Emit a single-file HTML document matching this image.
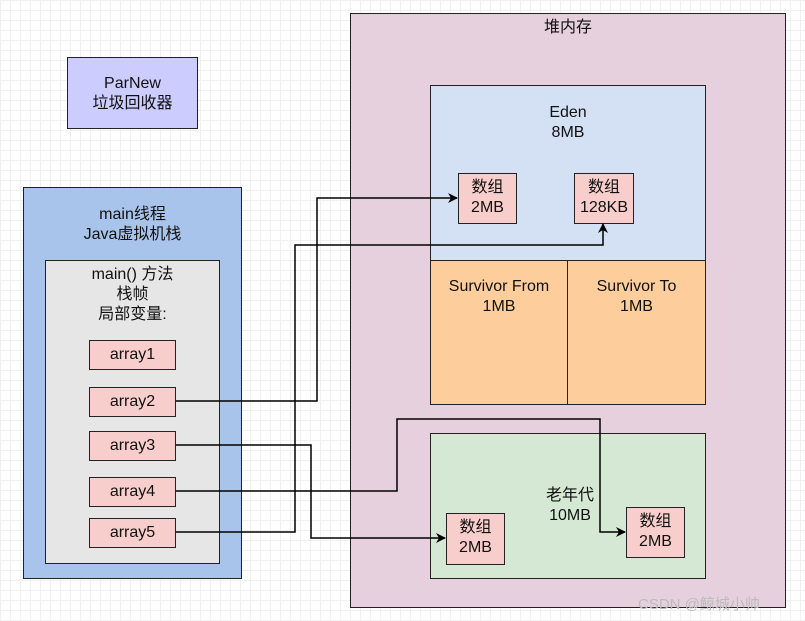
<!DOCTYPE html>
<html><head><meta charset="utf-8"><style>
body{margin:0;width:805px;height:621px;overflow:hidden;background:#fff;
background-image:linear-gradient(#f0f0f0 1px,transparent 1px),linear-gradient(90deg,#f0f0f0 1px,transparent 1px);background-size:10px 10px;
font-family:"Liberation Sans","Noto Sans CJK SC",sans-serif;}
.b{position:absolute;box-sizing:border-box;border:1.5px solid #222;font-size:16px;color:#111;text-align:center;line-height:20px}
</style></head><body>
<div class="b" style="left:350px;top:13px;width:436px;height:595px;background:#e6d0de;padding-top:4px">堆内存</div>
<div class="b" style="left:430px;top:85px;width:276px;height:176px;background:#d4e1f5;padding-top:17px">Eden<br>8MB</div>
<div class="b" style="left:430px;top:260px;width:138px;height:145px;background:#fdcd9c;padding-top:16px">Survivor From<br>1MB</div>
<div class="b" style="left:567px;top:260px;width:139px;height:145px;background:#fdcd9c;padding-top:16px">Survivor To<br>1MB</div>
<div class="b" style="left:430px;top:433px;width:276px;height:146px;background:#d5e8d4;padding-top:52px;padding-left:4px">老年代<br>10MB</div>
<div class="b" style="left:67px;top:57px;width:131px;height:72px;background:#ccccff;padding-top:16px">ParNew<br>垃圾回收器</div>
<div class="b" style="left:23px;top:187px;width:219px;height:392px;background:#a9c4eb;padding-top:17px">main线程<br>Java虚拟机栈</div>
<div class="b" style="left:45px;top:260px;width:175px;height:304px;background:#e6e6e6;padding-top:4px">main() 方法<br>栈帧<br>局部变量:</div>
<div class="b" style="left:89px;top:340px;width:87px;height:30px;background:#f8cecc;padding-top:4px">array1</div>
<div class="b" style="left:89px;top:387px;width:87px;height:30px;background:#f8cecc;padding-top:4px">array2</div>
<div class="b" style="left:89px;top:431px;width:87px;height:30px;background:#f8cecc;padding-top:4px">array3</div>
<div class="b" style="left:89px;top:477px;width:87px;height:30px;background:#f8cecc;padding-top:4px">array4</div>
<div class="b" style="left:89px;top:518px;width:87px;height:30px;background:#f8cecc;padding-top:4px">array5</div>
<div class="b" style="left:458px;top:173px;width:59px;height:51px;background:#f8cecc;padding-top:4px">数组<br>2MB</div>
<div class="b" style="left:574px;top:173px;width:60px;height:51px;background:#f8cecc;padding-top:4px">数组<br>128KB</div>
<div class="b" style="left:446px;top:513px;width:59px;height:52px;background:#f8cecc;padding-top:4px">数组<br>2MB</div>
<div class="b" style="left:626px;top:507px;width:59px;height:51px;background:#f8cecc;padding-top:4px">数组<br>2MB</div>
<svg width="805" height="621" style="position:absolute;left:0;top:0">
<defs><marker id="a" markerWidth="10" markerHeight="10" refX="9" refY="5" orient="auto" markerUnits="userSpaceOnUse"><path d="M0,0 L10,5 L0,10 L3,5z" fill="#000"/></marker></defs>
<g fill="none" stroke="#000" stroke-width="1.5">
<path d="M176,401 H317 V198 H457" marker-end="url(#a)"/>
<path d="M176,532 H295 V245 H603 V224" marker-end="url(#a)"/>
<path d="M176,445 H311 V538 H445" marker-end="url(#a)"/>
<path d="M176,491 H397 V419 H600 V532 H625" marker-end="url(#a)"/>
</g>
<text x="638" y="609" font-size="15" fill="#bbb" font-family="Liberation Sans,Noto Sans CJK SC,sans-serif">CSDN @鲸城小帅</text>
</svg>
</body></html>
